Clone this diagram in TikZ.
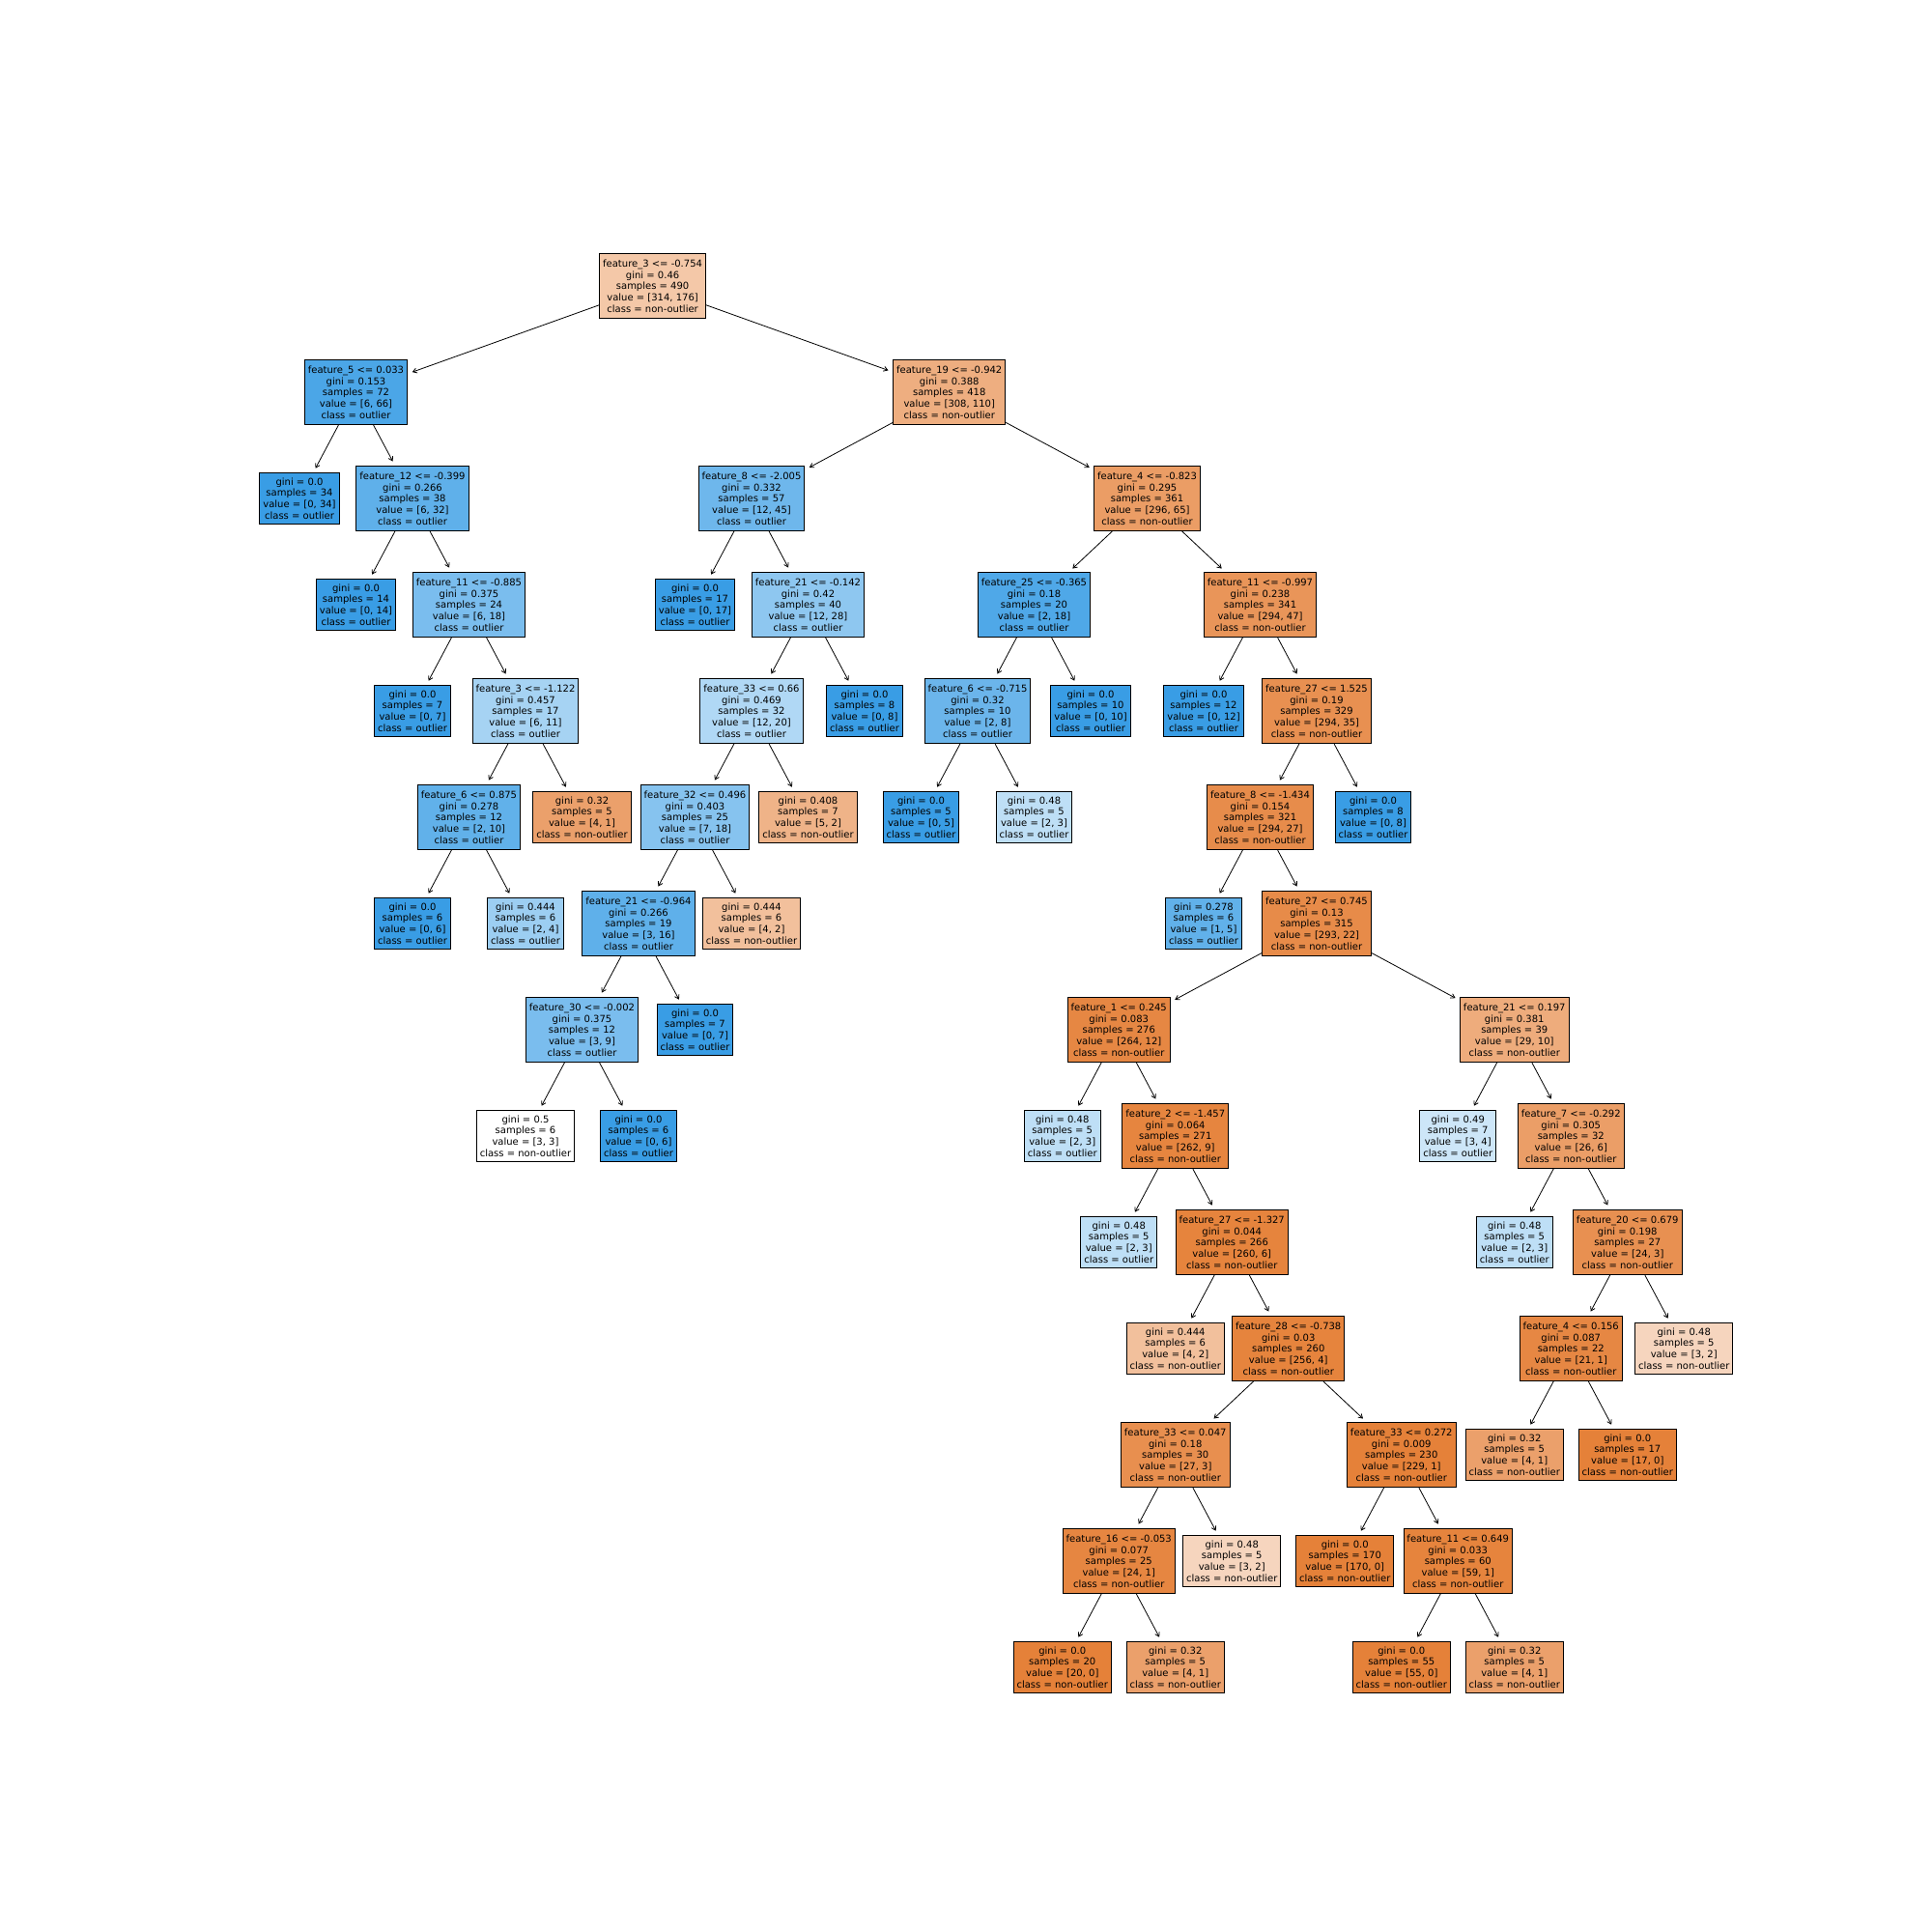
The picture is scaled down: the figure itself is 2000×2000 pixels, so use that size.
\documentclass[tikz,border=0pt]{standalone}
\usepackage{fontspec}
\setmainfont{DejaVu Sans}
\usetikzlibrary{arrows.meta}
\definecolor{nonout}{HTML}{E58139}
\definecolor{outl}{HTML}{399DE5}
\tikzset{
  treebox/.style={draw, rectangle, line width=0.9pt, align=center, inner xsep=3.5pt,
    font=\fontsize{10}{11.7}\selectfont},
  splitbox/.style={treebox, inner ysep=6.3pt},
  leafbox/.style={treebox, inner ysep=5pt},
}

\begin{document}
\begin{tikzpicture}[x=1pt, y=-1pt, >={Straight Barb[length=4pt,width=5pt]}]
\useasboundingbox (0,0) rectangle (2000,2000);
\fill[white] (0,0) rectangle (2000,2000);

% level 0
\node[splitbox, fill=nonout!44] (n0) at (675.6,296) {feature\_3 <= -0.754\\gini = 0.46\\samples = 490\\value = [314, 176]\\class = non-outlier};
% level 1
\node[splitbox, fill=outl!91] (n1) at (368.5,406) {feature\_5 <= 0.033\\gini = 0.153\\samples = 72\\value = [6, 66]\\class = outlier};
\node[splitbox, fill=nonout!64] (n12) at (982.75,406) {feature\_19 <= -0.942\\gini = 0.388\\samples = 418\\value = [308, 110]\\class = non-outlier};
% level 2
\node[leafbox, fill=outl] (n2) at (310,516) {gini = 0.0\\samples = 34\\value = [0, 34]\\class = outlier};
\node[splitbox, fill=outl!81] (n3) at (427,516) {feature\_12 <= -0.399\\gini = 0.266\\samples = 38\\value = [6, 32]\\class = outlier};
\node[splitbox, fill=outl!73] (n13) at (778,516) {feature\_8 <= -2.005\\gini = 0.332\\samples = 57\\value = [12, 45]\\class = outlier};
\node[splitbox, fill=nonout!78] (n26) at (1187.5,516) {feature\_4 <= -0.823\\gini = 0.295\\samples = 361\\value = [296, 65]\\class = non-outlier};
% level 3
\node[leafbox, fill=outl] (n4) at (368.5,626) {gini = 0.0\\samples = 14\\value = [0, 14]\\class = outlier};
\node[splitbox, fill=outl!67] (n5) at (485.5,626) {feature\_11 <= -0.885\\gini = 0.375\\samples = 24\\value = [6, 18]\\class = outlier};
\node[leafbox, fill=outl] (n14) at (719.5,626) {gini = 0.0\\samples = 17\\value = [0, 17]\\class = outlier};
\node[splitbox, fill=outl!57] (n15) at (836.5,626) {feature\_21 <= -0.142\\gini = 0.42\\samples = 40\\value = [12, 28]\\class = outlier};
\node[splitbox, fill=outl!89] (n27) at (1070.5,626) {feature\_25 <= -0.365\\gini = 0.18\\samples = 20\\value = [2, 18]\\class = outlier};
\node[splitbox, fill=nonout!84] (n32) at (1304.5,626) {feature\_11 <= -0.997\\gini = 0.238\\samples = 341\\value = [294, 47]\\class = non-outlier};
% level 4
\node[leafbox, fill=outl] (n6) at (427,736) {gini = 0.0\\samples = 7\\value = [0, 7]\\class = outlier};
\node[splitbox, fill=outl!45] (n7) at (544,736) {feature\_3 <= -1.122\\gini = 0.457\\samples = 17\\value = [6, 11]\\class = outlier};
\node[splitbox, fill=outl!40] (n16) at (778,736) {feature\_33 <= 0.66\\gini = 0.469\\samples = 32\\value = [12, 20]\\class = outlier};
\node[leafbox, fill=outl] (n25) at (895,736) {gini = 0.0\\samples = 8\\value = [0, 8]\\class = outlier};
\node[splitbox, fill=outl!75] (n28) at (1012,736) {feature\_6 <= -0.715\\gini = 0.32\\samples = 10\\value = [2, 8]\\class = outlier};
\node[leafbox, fill=outl] (n31) at (1129,736) {gini = 0.0\\samples = 10\\value = [0, 10]\\class = outlier};
\node[leafbox, fill=outl] (n33) at (1246,736) {gini = 0.0\\samples = 12\\value = [0, 12]\\class = outlier};
\node[splitbox, fill=nonout!88] (n34) at (1363,736) {feature\_27 <= 1.525\\gini = 0.19\\samples = 329\\value = [294, 35]\\class = non-outlier};
% level 5
\node[splitbox, fill=outl!80] (n8) at (485.5,846) {feature\_6 <= 0.875\\gini = 0.278\\samples = 12\\value = [2, 10]\\class = outlier};
\node[leafbox, fill=nonout!75] (n11) at (602.5,846) {gini = 0.32\\samples = 5\\value = [4, 1]\\class = non-outlier};
\node[splitbox, fill=outl!61] (n17) at (719.5,846) {feature\_32 <= 0.496\\gini = 0.403\\samples = 25\\value = [7, 18]\\class = outlier};
\node[leafbox, fill=nonout!60] (n24) at (836.5,846) {gini = 0.408\\samples = 7\\value = [5, 2]\\class = non-outlier};
\node[leafbox, fill=outl] (n29) at (953.5,846) {gini = 0.0\\samples = 5\\value = [0, 5]\\class = outlier};
\node[leafbox, fill=outl!33] (n30) at (1070.5,846) {gini = 0.48\\samples = 5\\value = [2, 3]\\class = outlier};
\node[splitbox, fill=nonout!91] (n35) at (1304.5,846) {feature\_8 <= -1.434\\gini = 0.154\\samples = 321\\value = [294, 27]\\class = non-outlier};
\node[leafbox, fill=outl] (n64) at (1421.5,846) {gini = 0.0\\samples = 8\\value = [0, 8]\\class = outlier};
% level 6
\node[leafbox, fill=outl] (n9) at (427,956) {gini = 0.0\\samples = 6\\value = [0, 6]\\class = outlier};
\node[leafbox, fill=outl!50] (n10) at (544,956) {gini = 0.444\\samples = 6\\value = [2, 4]\\class = outlier};
\node[splitbox, fill=outl!81] (n18) at (661,956) {feature\_21 <= -0.964\\gini = 0.266\\samples = 19\\value = [3, 16]\\class = outlier};
\node[leafbox, fill=nonout!50] (n23) at (778,956) {gini = 0.444\\samples = 6\\value = [4, 2]\\class = non-outlier};
\node[leafbox, fill=outl!80] (n36) at (1246,956) {gini = 0.278\\samples = 6\\value = [1, 5]\\class = outlier};
\node[splitbox, fill=nonout!92] (n37) at (1363,956) {feature\_27 <= 0.745\\gini = 0.13\\samples = 315\\value = [293, 22]\\class = non-outlier};
% level 7
\node[splitbox, fill=outl!67] (n19) at (602.5,1066) {feature\_30 <= -0.002\\gini = 0.375\\samples = 12\\value = [3, 9]\\class = outlier};
\node[leafbox, fill=outl] (n22) at (719.5,1066) {gini = 0.0\\samples = 7\\value = [0, 7]\\class = outlier};
\node[splitbox, fill=nonout!95] (n38) at (1158.25,1066) {feature\_1 <= 0.245\\gini = 0.083\\samples = 276\\value = [264, 12]\\class = non-outlier};
\node[splitbox, fill=nonout!66] (n55) at (1567.75,1066) {feature\_21 <= 0.197\\gini = 0.381\\samples = 39\\value = [29, 10]\\class = non-outlier};
% level 8
\node[leafbox, fill=white] (n20) at (544,1176) {gini = 0.5\\samples = 6\\value = [3, 3]\\class = non-outlier};
\node[leafbox, fill=outl] (n21) at (661,1176) {gini = 0.0\\samples = 6\\value = [0, 6]\\class = outlier};
\node[leafbox, fill=outl!33] (n39) at (1099.75,1176) {gini = 0.48\\samples = 5\\value = [2, 3]\\class = outlier};
\node[splitbox, fill=nonout!97] (n40) at (1216.75,1176) {feature\_2 <= -1.457\\gini = 0.064\\samples = 271\\value = [262, 9]\\class = non-outlier};
\node[leafbox, fill=outl!25] (n56) at (1509.25,1176) {gini = 0.49\\samples = 7\\value = [3, 4]\\class = outlier};
\node[splitbox, fill=nonout!77] (n57) at (1626.25,1176) {feature\_7 <= -0.292\\gini = 0.305\\samples = 32\\value = [26, 6]\\class = non-outlier};
% level 9
\node[leafbox, fill=outl!33] (n41) at (1158.25,1286) {gini = 0.48\\samples = 5\\value = [2, 3]\\class = outlier};
\node[splitbox, fill=nonout!98] (n42) at (1275.25,1286) {feature\_27 <= -1.327\\gini = 0.044\\samples = 266\\value = [260, 6]\\class = non-outlier};
\node[leafbox, fill=outl!33] (n58) at (1567.75,1286) {gini = 0.48\\samples = 5\\value = [2, 3]\\class = outlier};
\node[splitbox, fill=nonout!88] (n59) at (1684.75,1286) {feature\_20 <= 0.679\\gini = 0.198\\samples = 27\\value = [24, 3]\\class = non-outlier};
% level 10
\node[leafbox, fill=nonout!50] (n43) at (1216.75,1396) {gini = 0.444\\samples = 6\\value = [4, 2]\\class = non-outlier};
\node[splitbox, fill=nonout!98] (n44) at (1333.75,1396) {feature\_28 <= -0.738\\gini = 0.03\\samples = 260\\value = [256, 4]\\class = non-outlier};
\node[splitbox, fill=nonout!95] (n60) at (1626.25,1396) {feature\_4 <= 0.156\\gini = 0.087\\samples = 22\\value = [21, 1]\\class = non-outlier};
\node[leafbox, fill=nonout!33] (n63) at (1743.25,1396) {gini = 0.48\\samples = 5\\value = [3, 2]\\class = non-outlier};
% level 11
\node[splitbox, fill=nonout!89] (n45) at (1216.75,1506) {feature\_33 <= 0.047\\gini = 0.18\\samples = 30\\value = [27, 3]\\class = non-outlier};
\node[splitbox, fill=nonout!100] (n50) at (1450.75,1506) {feature\_33 <= 0.272\\gini = 0.009\\samples = 230\\value = [229, 1]\\class = non-outlier};
\node[leafbox, fill=nonout!75] (n61) at (1567.75,1506) {gini = 0.32\\samples = 5\\value = [4, 1]\\class = non-outlier};
\node[leafbox, fill=nonout] (n62) at (1684.75,1506) {gini = 0.0\\samples = 17\\value = [17, 0]\\class = non-outlier};
% level 12
\node[splitbox, fill=nonout!96] (n46) at (1158.25,1616) {feature\_16 <= -0.053\\gini = 0.077\\samples = 25\\value = [24, 1]\\class = non-outlier};
\node[leafbox, fill=nonout!33] (n49) at (1275.25,1616) {gini = 0.48\\samples = 5\\value = [3, 2]\\class = non-outlier};
\node[leafbox, fill=nonout] (n51) at (1392.25,1616) {gini = 0.0\\samples = 170\\value = [170, 0]\\class = non-outlier};
\node[splitbox, fill=nonout!98] (n52) at (1509.25,1616) {feature\_11 <= 0.649\\gini = 0.033\\samples = 60\\value = [59, 1]\\class = non-outlier};
% level 13
\node[leafbox, fill=nonout] (n47) at (1099.75,1726) {gini = 0.0\\samples = 20\\value = [20, 0]\\class = non-outlier};
\node[leafbox, fill=nonout!75] (n48) at (1216.75,1726) {gini = 0.32\\samples = 5\\value = [4, 1]\\class = non-outlier};
\node[leafbox, fill=nonout] (n53) at (1450.75,1726) {gini = 0.0\\samples = 55\\value = [55, 0]\\class = non-outlier};
\node[leafbox, fill=nonout!75] (n54) at (1567.75,1726) {gini = 0.32\\samples = 5\\value = [4, 1]\\class = non-outlier};

\path[->, line width=0.8pt, shorten >=5pt]
  (n0) edge (n1)   (n0) edge (n12)
  (n1) edge (n2)   (n1) edge (n3)
  (n3) edge (n4)   (n3) edge (n5)
  (n5) edge (n6)   (n5) edge (n7)
  (n7) edge (n8)   (n7) edge (n11)
  (n8) edge (n9)   (n8) edge (n10)
  (n12) edge (n13) (n12) edge (n26)
  (n13) edge (n14) (n13) edge (n15)
  (n15) edge (n16) (n15) edge (n25)
  (n16) edge (n17) (n16) edge (n24)
  (n17) edge (n18) (n17) edge (n23)
  (n18) edge (n19) (n18) edge (n22)
  (n19) edge (n20) (n19) edge (n21)
  (n26) edge (n27) (n26) edge (n32)
  (n27) edge (n28) (n27) edge (n31)
  (n28) edge (n29) (n28) edge (n30)
  (n32) edge (n33) (n32) edge (n34)
  (n34) edge (n35) (n34) edge (n64)
  (n35) edge (n36) (n35) edge (n37)
  (n37) edge (n38) (n37) edge (n55)
  (n38) edge (n39) (n38) edge (n40)
  (n40) edge (n41) (n40) edge (n42)
  (n42) edge (n43) (n42) edge (n44)
  (n44) edge (n45) (n44) edge (n50)
  (n45) edge (n46) (n45) edge (n49)
  (n46) edge (n47) (n46) edge (n48)
  (n50) edge (n51) (n50) edge (n52)
  (n52) edge (n53) (n52) edge (n54)
  (n55) edge (n56) (n55) edge (n57)
  (n57) edge (n58) (n57) edge (n59)
  (n59) edge (n60) (n59) edge (n63)
  (n60) edge (n61) (n60) edge (n62);
\end{tikzpicture}
\end{document}
